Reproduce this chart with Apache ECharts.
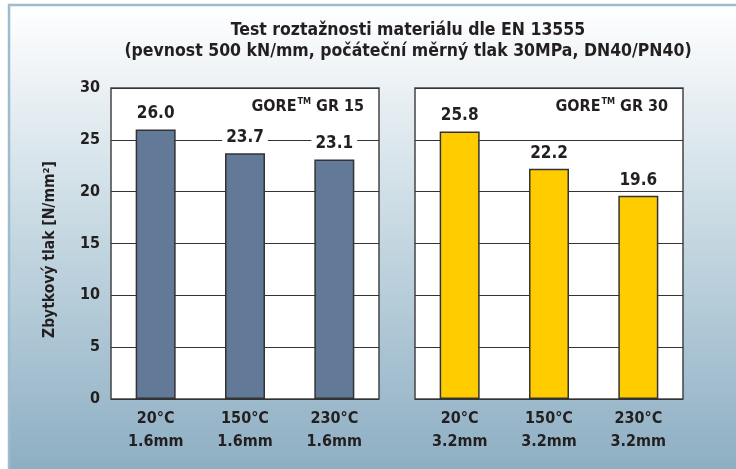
<!DOCTYPE html>
<html>
<head>
<meta charset="utf-8">
<script src="https://cdn.jsdelivr.net/npm/echarts@6/dist/echarts.min.js"></script>
<style>
html,body{margin:0;padding:0;background:#fff;}
#c{width:736px;height:469px;}
</style>
</head>
<body>
<div id="c"></div>
<script>
// ---- data ----
const titleLines = ['Test roztažnosti materiálu dle EN 13555', '(pevnost 500 kN/mm, počáteční měrný tlak 30MPa, DN40/PN40)'];
const yAxisName = 'Zbytkový tlak [N/mm²]';
const categoriesGR15 = ['20°C\n1.6mm', '150°C\n1.6mm', '230°C\n1.6mm'];
const valuesGR15 = [26.0, 23.7, 23.1];
const categoriesGR30 = ['20°C\n3.2mm', '150°C\n3.2mm', '230°C\n3.2mm'];
const valuesGR30 = [25.8, 22.2, 19.6];
const panelNames = ['GR 15', 'GR 30'];
const yMin = 0, yMax = 30, yStep = 5;

const FONT = '"Liberation Sans Narrow", "DejaVu Sans Condensed", "Liberation Sans", sans-serif';
const TXT = '#231f20';

const chart = echarts.init(document.getElementById('c'), null, {renderer: 'canvas'});

function panelTitle(name, right) {
  return {
    text: '{a|GORE}{s|TM}{a| ' + name + '}',
    right: right, top: 92,
    textStyle: {
      rich: {
        a: {fontFamily: FONT, fontWeight: 'bold', fontSize: 16, color: TXT, verticalAlign: 'bottom', lineHeight: 18},
        s: {fontFamily: FONT, fontWeight: 'bold', fontSize: 9, color: TXT, verticalAlign: 'top', padding: [0, 0, 7, 1], lineHeight: 18}
      }
    }
  };
}

const xAxisCommon = {
  type: 'category',
  axisLine: {show: false},
  axisTick: {show: false},
  axisLabel: {fontFamily: FONT, fontWeight: 'bold', fontSize: 16, color: TXT, lineHeight: 23, margin: 8}
};
const yAxisCommon = {
  type: 'value', min: yMin, max: yMax, interval: yStep,
  axisLine: {show: false}, axisTick: {show: false},
  splitLine: {show: true, lineStyle: {color: '#333', width: 1.2}}
};
function barSeries(idx, data, color) {
  return {
    type: 'bar', xAxisIndex: idx, yAxisIndex: idx, data: data, barWidth: 40,
    itemStyle: {color: color, borderColor: '#333', borderWidth: 1.5},
    label: {
      show: true, position: 'top', distance: 6,
      formatter: p => p.value.toFixed(1),
      fontFamily: FONT, fontWeight: 'bold', fontSize: 17, color: TXT,
      backgroundColor: '#fff', padding: [1, 4]
    }
  };
}

chart.setOption({
  animation: false,
  graphic: [{
    type: 'rect', z: -100, silent: true,
    shape: {x: 9, y: 5, width: 740, height: 470},
    style: {
      fill: new echarts.graphic.LinearGradient(0, 0, 0, 1, [
        {offset: 0, color: '#ffffff'},
        {offset: 0.15, color: '#eef3f6'},
        {offset: 0.5, color: '#c4d7e1'},
        {offset: 1, color: '#8cadc2'}
      ]),
      stroke: '#9dbdce', lineWidth: 2.5
    }
  }],
  title: [
    {
      text: titleLines.join('\n'), left: 403, top: 15, textAlign: 'center',
      textStyle: {fontFamily: FONT, fontWeight: 'bold', fontSize: 17.5, color: TXT, lineHeight: 21}
    },
    panelTitle(panelNames[0], 736 - 369),
    panelTitle(panelNames[1], 736 - 673)
  ],
  grid: [
    {left: 111, top: 88, width: 268, height: 311, show: true, backgroundColor: '#fff', borderColor: '#444', borderWidth: 1.5},
    {left: 415, top: 88, width: 268, height: 311, show: true, backgroundColor: '#fff', borderColor: '#444', borderWidth: 1.5}
  ],
  xAxis: [
    Object.assign({gridIndex: 0, data: categoriesGR15}, xAxisCommon),
    Object.assign({gridIndex: 1, data: categoriesGR30}, xAxisCommon)
  ],
  yAxis: [
    Object.assign({
      gridIndex: 0,
      name: yAxisName, nameLocation: 'middle', nameRotate: 90, nameGap: 53,
      nameTextStyle: {fontFamily: FONT, fontWeight: 'bold', fontSize: 15.5, color: TXT, padding: [0, 12, 0, 0]},
      axisLabel: {fontFamily: FONT, fontWeight: 'bold', fontSize: 16, color: TXT, margin: 11}
    }, yAxisCommon),
    Object.assign({gridIndex: 1, axisLabel: {show: false}}, yAxisCommon)
  ],
  series: [
    barSeries(0, valuesGR15, '#627a97'),
    barSeries(1, valuesGR30, '#ffcc00')
  ]
});
</script>
</body>
</html>
